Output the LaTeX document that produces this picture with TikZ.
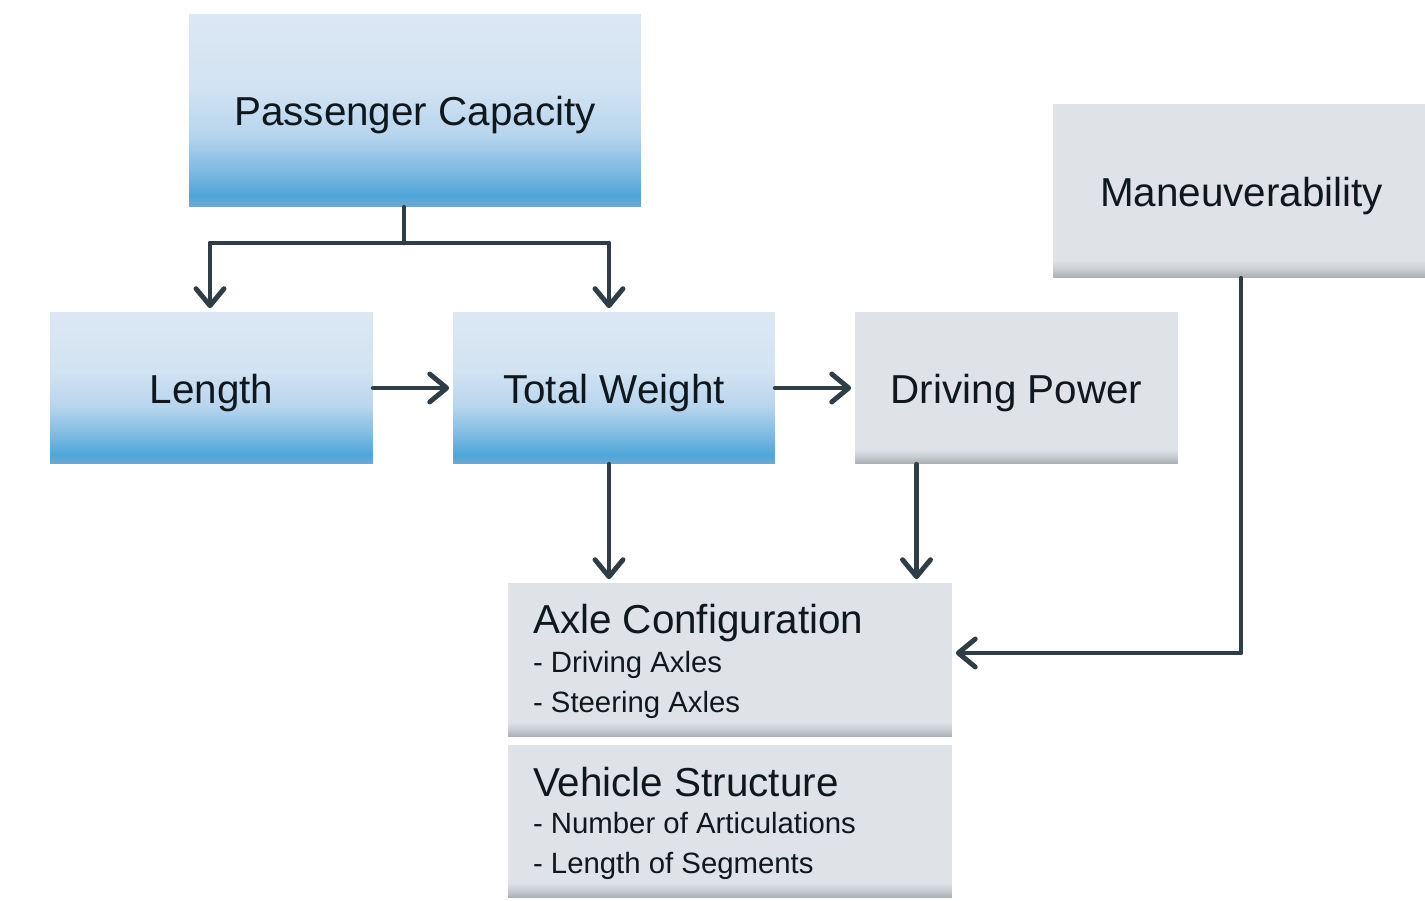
\documentclass[tikz,border=0pt]{standalone}
\usepackage{fontspec}
\setmainfont{Liberation Sans}
\usetikzlibrary{arrows.meta,calc}

\definecolor{linkcol}{HTML}{2F3E46}
\definecolor{inkcol}{HTML}{10181F}
\definecolor{bbot}{HTML}{72A8CE}
\definecolor{bstrong}{HTML}{4EA6DA}
\definecolor{bsoft}{HTML}{74B6E0}
\definecolor{bpale}{HTML}{B8D5EE}
\definecolor{blight}{HTML}{D3E3F2}
\definecolor{btop}{HTML}{DCE7F3}
\definecolor{gbot}{HTML}{A7ACB2}
\definecolor{gmid}{HTML}{C9CDD2}
\definecolor{gtop}{HTML}{DFE2E6}

% box fills, bottom to top (box spans 25bp..75bp)
\pgfdeclareverticalshading{blueshade}{100bp}{color(0bp)=(bbot); color(25bp)=(bbot);
  color(28bp)=(bstrong); color(33bp)=(bsoft); color(44bp)=(bpale);
  color(56bp)=(blight); color(75bp)=(btop); color(100bp)=(btop)}
\pgfdeclareverticalshading{grayshade}{100bp}{color(0bp)=(gbot); color(25bp)=(gbot);
  color(27.5bp)=(gmid); color(30bp)=(gtop); color(100bp)=(gtop)}

\tikzset{
  box/.style={rectangle, inner sep=0pt, text=inkcol, text height=17.5pt, text depth=0pt,
    font=\fontsize{23}{27}\selectfont},
  bluebox/.style={box, shading=blueshade},
  graybox/.style={box, shading=grayshade},
  head/.style={anchor=base west, inner sep=0pt, text=inkcol, font=\fontsize{23}{27}\selectfont},
  item/.style={anchor=base west, inner sep=0pt, text=inkcol, font=\fontsize{16.7}{20}\selectfont},
  link/.style={draw=linkcol, line width=2.8pt, line cap=round, line join=round},
  arrow/.style={link, -{Straight Barb[length=0.34cm,width=0.56cm,round]}, shorten >=2pt},
}

\begin{document}
\begin{tikzpicture}[x=0.02cm,y=-0.02cm]
\useasboundingbox (0,0) rectangle (1425,901);

% boxes
\node[bluebox, minimum width=9.04cm, minimum height=3.86cm] (pc) at (415,110.5) {Passenger Capacity};
\node[bluebox, minimum width=6.46cm, minimum height=3.04cm] (len) at (211.5,388) {Length};
\node[bluebox, minimum width=6.44cm, minimum height=3.04cm] (tw) at (614,388) {Total Weight};
\node[graybox, minimum width=6.46cm, minimum height=3.04cm] (dp) at (1016.5,388) {Driving Power};
\node[graybox, minimum width=7.44cm, minimum height=3.48cm] (man) at (1239,191) {\hspace{0.1cm}Maneuverability};
\node[graybox, minimum width=8.88cm, minimum height=3.08cm] (axle) at (730,660) {};
\node[graybox, minimum width=8.88cm, minimum height=3.06cm] (veh) at (730,821.5) {};

% texts of the two lower boxes
\node[head] (axlehead) at ($(axle.north west)+(25,51)$) {Axle Configuration};
\node[item] (axleone) at ($(axlehead.base west)+(0,39)$) {- Driving Axles};
\node[item] (axletwo) at ($(axleone.base west)+(0,40)$) {- Steering Axles};
\node[head] (vehhead) at ($(veh.north west)+(25,52)$) {Vehicle Structure};
\node[item] (vehone) at ($(vehhead.base west)+(0,37)$) {- Number of Articulations};
\node[item] (vehtwo) at ($(vehone.base west)+(0,40)$) {- Length of Segments};

% connectors
\coordinate (split) at (404,243);
\draw[link] (pc.south -| split) -- (split);
\draw[arrow] (split) -| ([xshift=-0.03cm]len.north);
\draw[arrow] (split) -| ([xshift=-0.1cm]tw.north);
\draw[arrow] (len) -- (tw);
\draw[arrow] (tw) -- (dp);
\draw[arrow] ([xshift=-0.1cm]tw.south) -- ([xshift=-0.1cm]tw.south |- axle.north);
\draw[arrow] ([xshift=-2cm]dp.south) -- ([xshift=-2cm]dp.south |- axle.north);
\draw[arrow] ([xshift=0.04cm]man.south) |- ([yshift=0.14cm]axle.east);
\end{tikzpicture}
\end{document}
